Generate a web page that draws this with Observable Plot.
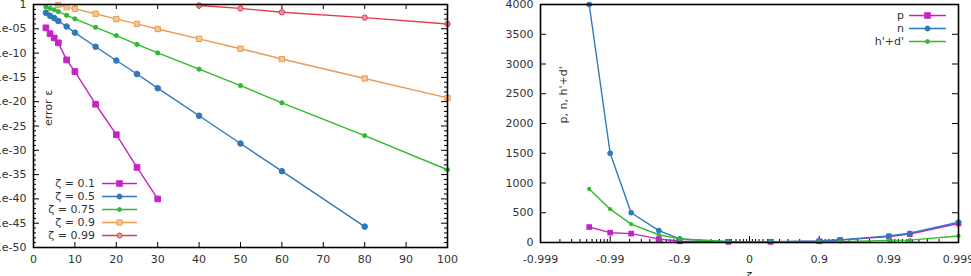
<!DOCTYPE html>
<html>
<head>
<meta charset="utf-8">
<script src="https://cdn.jsdelivr.net/npm/d3@7"></script>
<script src="https://cdn.jsdelivr.net/npm/@observablehq/plot@0.6"></script>
<style>
  body { margin: 0; background: #fff; }
  #wrap { position: relative; width: 971px; height: 276px; overflow: hidden; font-family: "DejaVu Sans", sans-serif; }
  .panel { position: absolute; top: 0; }
  .overlay { position: absolute; left: 0; top: 0; pointer-events: none; }
</style>
</head>
<body>
<div id="wrap"></div>
<script>
// ---- Convergence of the error for several values of zeta ----
const n01 = [3, 4, 5, 6, 8, 10, 15, 20, 25, 30];
const err01 = [1.6e-5, 1e-6, 1.3e-7, 1.3e-8, 4e-12, 1.6e-14, 3e-21, 1.6e-27, 3e-34, 1e-40];
const n05 = [3, 4, 5, 6, 8, 10, 15, 20, 25, 30, 40, 50, 60, 80];
const err05 = [2e-2, 5e-3, 1.6e-3, 4e-4, 3e-5, 1.6e-6, 2e-9, 3e-12, 5e-15, 6e-18, 1.3e-23, 2.5e-29, 5e-35, 2e-46];
const n075 = [3, 4, 5, 6, 8, 10, 15, 20, 25, 30, 40, 50, 60, 80, 100];
const err075 = [0.3, 0.16, 0.08, 0.035, 6e-3, 1.1e-3, 2e-5, 4e-7, 6e-9, 1.1e-10, 5e-14, 2e-17, 6e-21, 1e-27, 1e-34];
const n09 = [6, 8, 10, 15, 20, 25, 30, 40, 50, 60, 80, 100];
const err09 = [0.8, 0.28, 0.125, 0.0125, 1e-3, 1e-4, 9e-6, 8.5e-8, 8e-10, 6e-12, 6e-16, 6e-20];
const n099 = [40, 50, 60, 80, 100];
const err099 = [0.63, 0.16, 0.025, 2e-3, 1e-4];

const errXTicks = [0, 10, 20, 30, 40, 50, 60, 70, 80, 90, 100];
const errYTicks = [1, 1e-5, 1e-10, 1e-15, 1e-20, 1e-25, 1e-30, 1e-35, 1e-40, 1e-45, 1e-50];
const errYTickLabels = ["1", "1e-05", "1e-10", "1e-15", "1e-20", "1e-25", "1e-30", "1e-35", "1e-40", "1e-45", "1e-50"];
const errYMinor = d3.range(1, 50).filter(k => k % 5 !== 0).map(k => Math.pow(10, -k));

// ---- p, n and h'+d' as a function of zeta ----
const zeta = [-0.995, -0.99, -0.98, -0.95, -0.9, -0.5, 0.5, 0.9, 0.95, 0.99, 0.995, 0.999];
const pVals = [260, 165, 150, 60, 20, 10, 10, 20, 40, 100, 140, 320];
const nVals = [4000, 1500, 500, 200, 60, 15, 15, 25, 45, 110, 155, 340];
const hdVals = [900, 560, 310, 130, 60, 15, 10, 10, 15, 35, 40, 110];

const zTicks = [-0.999, -0.99, -0.9, 0, 0.9, 0.99, 0.999];
const zTickLabels = ["-0.999", "-0.99", "-0.9", "0", "0.9", "0.99", "0.999"];
const yTicksR = [0, 500, 1000, 1500, 2000, 2500, 3000, 3500, 4000];

const colors = {
  magenta: "#c524c5",
  blue: "#2f78bb",
  green: "#2fbb2f",
  orange: "#ec9a52",
  red: "#e23b4d"
};

// symmetric "nines" axis: -log10(1-|z|) with the sign of z
const toAxis = z => z === 0 ? 0 : Math.sign(z) * -Math.log10(1 - Math.abs(z));

const wrap = document.getElementById("wrap");
const baseStyle = {fontFamily: '"DejaVu Sans", sans-serif', fontSize: "11px", color: "#333", background: "transparent"};

// ---------- left panel ----------
const L = {width: 480, height: 276, ml: 33, mr: 33, mt: 4, mb: 29};
const LW = L.width - L.ml - L.mr, LH = L.height - L.mt - L.mb;
const errSeries = [
  {n: n01, e: err01, color: colors.magenta, symbol: "square", r: 3.2, fill: colors.magenta},
  {n: n05, e: err05, color: colors.blue, symbol: "circle", r: 2.8, fill: colors.blue},
  {n: n075, e: err075, color: colors.green, symbol: "circle", r: 2.1, fill: colors.green},
  {n: n09, e: err09, color: colors.orange, symbol: "square", r: 3.0, fill: "#f6c594"},
  {n: n099, e: err099, color: colors.red, symbol: "circle", r: 2.7, fill: "#f08e99"}
];
const errMarks = [];
for (const s of errSeries) {
  const rows = s.n.map((n, i) => ({n, e: s.e[i]}));
  errMarks.push(Plot.line(rows, {x: "n", y: "e", stroke: s.color, strokeWidth: 1.4}));
  errMarks.push(Plot.dot(rows, {x: "n", y: "e", symbol: s.symbol, r: s.r, fill: s.fill, stroke: s.color, strokeWidth: 1}));
}
const yLabelMap = new Map(errYTicks.map((t, i) => [t, errYTickLabels[i]]));
const left = Plot.plot({
  width: L.width, height: L.height,
  marginLeft: L.ml, marginRight: L.mr, marginTop: L.mt, marginBottom: L.mb,
  style: baseStyle,
  x: {domain: [0, 100]},
  y: {type: "log", domain: [1e-50, 1]},
  marks: [
    Plot.axisX(errXTicks, {anchor: "bottom", tickSize: 0, tickPadding: 8, tickFormat: d => String(d), label: null}),
    Plot.axisY(errYTicks, {anchor: "left", tickSize: 0, tickPadding: 7, tickFormat: d => yLabelMap.get(d), label: null}),
    Plot.tickX(errXTicks, {x: d => d, insetTop: LH - 5, stroke: "black"}),
    Plot.tickX(errXTicks, {x: d => d, insetBottom: LH - 5, stroke: "black"}),
    Plot.tickY(errYTicks, {y: d => d, insetRight: LW - 6, stroke: "black"}),
    Plot.tickY(errYTicks, {y: d => d, insetLeft: LW - 6, stroke: "black"}),
    Plot.tickY(errYMinor, {y: d => d, insetRight: LW - 3, stroke: "black"}),
    Plot.tickY(errYMinor, {y: d => d, insetLeft: LW - 3, stroke: "black"}),
    ...errMarks,
    Plot.text(["error ε"], {frameAnchor: "left", dx: 15, rotate: -90, fontSize: 11, fill: "#333"}),
    Plot.frame({stroke: "black", strokeWidth: 1.6})
  ]
});
left.classList.add("panel");
left.style.left = "0px";
wrap.appendChild(left);

// ---------- right panel ----------
const R = {left: 480, width: 491, height: 276, ml: 60, mr: 13, mt: 4, mb: 34};
const RW = R.width - R.ml - R.mr, RH = R.height - R.mt - R.mb;
const zMinor = [];
for (let i = 0; i + 1 < zTicks.length; i++) {
  for (let k = 1; k < 10; k++) zMinor.push(zTicks[i] + (zTicks[i + 1] - zTicks[i]) * k / 10);
}
const zLabelMap = new Map(zTicks.map((t, i) => [toAxis(t), zTickLabels[i]]));
const zSeries = [
  {v: pVals, color: colors.magenta, symbol: "square", r: 3.2},
  {v: nVals, color: colors.blue, symbol: "circle", r: 2.8},
  {v: hdVals, color: colors.green, symbol: "circle", r: 2.1}
];
const zMarks = [];
for (const s of zSeries) {
  const rows = zeta.map((z, i) => ({t: toAxis(z), v: s.v[i]}));
  zMarks.push(Plot.line(rows, {x: "t", y: "v", stroke: s.color, strokeWidth: 1.4}));
  zMarks.push(Plot.dot(rows, {x: "t", y: "v", symbol: s.symbol, r: s.r, fill: s.color}));
}
const right = Plot.plot({
  width: R.width, height: R.height,
  marginLeft: R.ml, marginRight: R.mr, marginTop: R.mt, marginBottom: R.mb,
  style: baseStyle,
  x: {domain: [-3, 3]},
  y: {domain: [0, 4000]},
  marks: [
    Plot.axisX(zTicks.map(toAxis), {anchor: "bottom", tickSize: 0, tickPadding: 13, tickFormat: d => zLabelMap.get(d), label: null}),
    Plot.axisY(yTicksR, {anchor: "left", tickSize: 0, tickPadding: 7, tickFormat: d => String(d), label: null}),
    Plot.tickX(zTicks.map(toAxis), {x: d => d, insetTop: RH - 6, stroke: "black"}),
    Plot.tickX(zMinor.map(toAxis), {x: d => d, insetTop: RH - 3, stroke: "black"}),
    Plot.tickY(yTicksR, {y: d => d, insetRight: RW - 6, stroke: "black"}),
    Plot.tickY(yTicksR, {y: d => d, insetLeft: RW - 6, stroke: "black"}),
    ...zMarks,
    Plot.text(["p, n, h'+d'"], {frameAnchor: "left", dx: 23, rotate: -90, fontSize: 11, fill: "#333"}),
    Plot.text(["ζ"], {frameAnchor: "bottom", dy: 30, lineAnchor: "top", fontSize: 11, fill: "#333"}),
    Plot.frame({stroke: "black", strokeWidth: 1.6})
  ]
});
right.classList.add("panel");
right.style.left = R.left + "px";
wrap.appendChild(right);

// ---------- key boxes ----------
const overlay = d3.select(wrap).append("svg")
  .attr("class", "overlay").attr("width", 971).attr("height", 276)
  .style("font-family", '"DejaVu Sans", sans-serif').style("font-size", "11px");

function drawKey(entries, textX, x1, x2, y0, step) {
  entries.forEach((e, i) => {
    const y = y0 + i * step, xm = (x1 + x2) / 2;
    overlay.append("text").attr("x", textX).attr("y", y).attr("dy", "0.35em")
      .attr("text-anchor", "end").attr("fill", "#333").text(e.label);
    overlay.append("line").attr("x1", x1).attr("x2", x2).attr("y1", y).attr("y2", y)
      .attr("stroke", e.color).attr("stroke-width", 1.4);
    if (e.symbol === "square") {
      const s = e.size;
      overlay.append("rect").attr("x", xm - s / 2).attr("y", y - s / 2).attr("width", s).attr("height", s)
        .attr("fill", e.fill).attr("stroke", e.color);
    } else {
      overlay.append("circle").attr("cx", xm).attr("cy", y).attr("r", e.size / 2)
        .attr("fill", e.fill).attr("stroke", e.color);
    }
  });
}

drawKey([
  {label: "ζ = 0.1", color: colors.magenta, symbol: "square", size: 5.5, fill: colors.magenta},
  {label: "ζ = 0.5", color: colors.blue, symbol: "circle", size: 5, fill: colors.blue},
  {label: "ζ = 0.75", color: colors.green, symbol: "circle", size: 3.8, fill: colors.green},
  {label: "ζ = 0.9", color: colors.orange, symbol: "square", size: 5, fill: "#f6c594"},
  {label: "ζ = 0.99", color: colors.red, symbol: "circle", size: 5, fill: "#f08e99"}
], 95, 102, 137, 183.5, 13);

drawKey([
  {label: "p", color: colors.magenta, symbol: "square", size: 5.5, fill: colors.magenta},
  {label: "n", color: colors.blue, symbol: "circle", size: 5, fill: colors.blue},
  {label: "h'+d'", color: colors.green, symbol: "circle", size: 3.8, fill: colors.green}
], 904, 909, 946, 15.5, 13);
</script>
</body>
</html>
